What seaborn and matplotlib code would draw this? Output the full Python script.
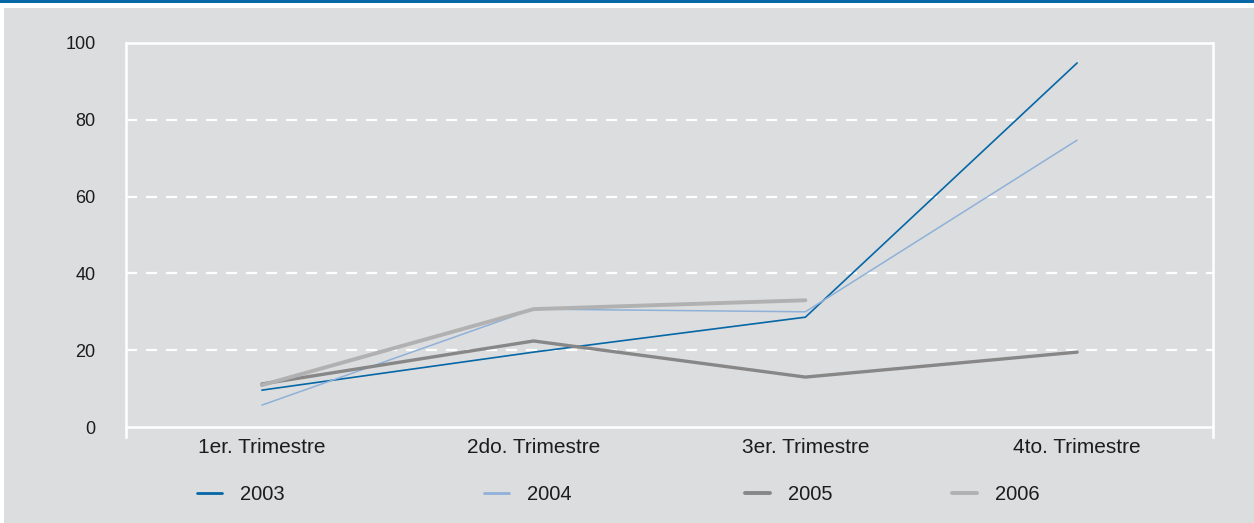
import numpy as np
import pandas as pd
import matplotlib
matplotlib.use("Agg")
import matplotlib.pyplot as plt
from matplotlib.patches import Rectangle
from matplotlib.lines import Line2D
import seaborn as sns

trimestres = ["1er. Trimestre", "2do. Trimestre", "3er. Trimestre", "4to. Trimestre"]
years = ["2003", "2004", "2005", "2006"]
v2003 = [9.6, 19.5, 28.6, 94.8]
v2004 = [5.7, 30.7, 30.0, 74.7]
v2005 = [11.2, 22.4, 13.0, 19.5]
v2006 = [10.9, 30.7, 33.0, np.nan]
y_ticks = [0, 20, 40, 60, 80, 100]

colors = {"2003": "#0567a6", "2004": "#8fb1d8", "2005": "#878787", "2006": "#b1b1b1"}
widths = {"2003": 1.2, "2004": 1.1, "2005": 2.4, "2006": 2.8}
# legend entry x positions (pixels), the original spaces them unevenly
legend_x = {"2003": 197, "2004": 484, "2005": 745, "2006": 952}

df = pd.DataFrame({
    "trimestre": trimestres * 4,
    "year": np.repeat(years, 4),
    "value": v2003 + v2004 + v2005 + v2006,
})

sns.set_theme(style="white")
plt.rcParams["font.family"] = ["Liberation Sans", "DejaVu Sans"]

bg = "#dcdddf"
txt = "#1c1c1c"
W, H = 1254, 523
fig = plt.figure(figsize=(W / 100, H / 100), dpi=100, facecolor="white")
fig.patches.append(Rectangle((4 / W, 0), 1, 1 - 8 / H, transform=fig.transFigure,
                             facecolor=bg, edgecolor="none", zorder=-10))
fig.patches.append(Rectangle((0, 1 - 3 / H), 1, 3 / H, transform=fig.transFigure,
                             facecolor="#0567a6", edgecolor="none", zorder=-5))

ax = fig.add_axes([126 / W, 1 - 427 / H, (1213 - 126) / W, (427 - 43) / H])
ax.set_facecolor(bg)

# dashed grid first so lines sit on top
for v in y_ticks[1:-1]:
    ax.axhline(v, color="white", lw=1.6, ls=(0, (5, 4)), zorder=1)

for yr in years:
    sub = df[df["year"] == yr].dropna()
    sns.lineplot(data=sub, x="trimestre", y="value", ax=ax, color=colors[yr],
                 lw=widths[yr], sort=False, zorder=3, legend=False)

ax.set_xlim(-0.5, 3.5)
ax.set_ylim(0, 100)
ax.set_xlabel("")
ax.set_ylabel("")

for side in ["left", "right", "top", "bottom"]:
    ax.spines[side].set_color("white")
    ax.spines[side].set_linewidth(1.8)
ax.spines["left"].set_bounds(-2.6, 100)
ax.spines["right"].set_bounds(-2.6, 100)

ax.set_xticks(range(4))
ax.set_xticklabels(trimestres, fontsize=15, color=txt)
ax.tick_params(axis="x", length=0, pad=8)
ax.set_xticks([-0.5, 0.5, 1.5, 2.5, 3.5], minor=True)
ax.tick_params(axis="x", which="minor", length=7, width=1.8, color="white", direction="out")

ax.set_yticks(y_ticks)
ax.set_yticklabels([str(t) for t in y_ticks], fontsize=13, color=txt)
ax.tick_params(axis="y", length=7, width=1.8, color="white", pad=15)

for yr in years:
    h = Line2D([0], [0], color=colors[yr], lw=2.0 if widths[yr] < 2 else 2.8)
    fig.legend([h], [yr], loc="center left", bbox_to_anchor=(legend_x[yr] / W, 1 - 495 / H),
               frameon=False, fontsize=14.5, handlelength=1.25, handletextpad=0.9,
               borderpad=0, borderaxespad=0, labelcolor=txt)

fig.savefig("out.png", dpi=100, facecolor=fig.get_facecolor())
